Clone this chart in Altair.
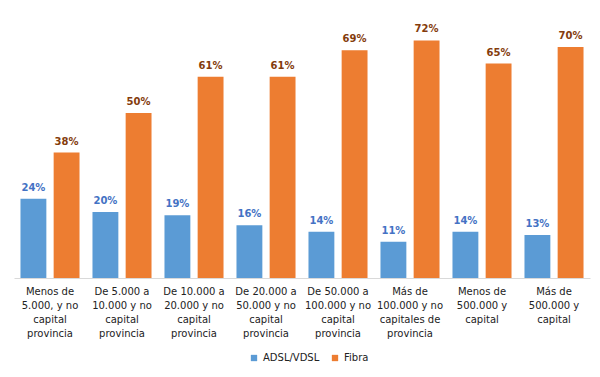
import altair as alt
import pandas as pd

categories = [
    "Menos de\n5.000, y no\ncapital\nprovincia",
    "De 5.000 a\n10.000 y no\ncapital\nprovincia",
    "De 10.000 a\n20.000 y no\ncapital\nprovincia",
    "De 20.000 a\n50.000 y no\ncapital\nprovincia",
    "De 50.000 a\n100.000 y no\ncapital\nprovincia",
    "Más de\n100.000 y no\ncapitales de\nprovincia",
    "Menos de\n500.000 y\ncapital",
    "Más de\n500.000 y\ncapital",
]
series = ["ADSL/VDSL", "Fibra"]
adsl = [24, 20, 19, 16, 14, 11, 14, 13]
fibra = [38, 50, 61, 61, 69, 72, 65, 70]

rows = []
for i, c in enumerate(categories):
    rows.append({"cat": c, "serie": series[0], "v": adsl[i] / 100})
    rows.append({"cat": c, "serie": series[1], "v": fibra[i] / 100})
df = pd.DataFrame(rows)

FONT = "DejaVu Sans"

x = alt.X("cat:N", sort=categories, title=None,
          scale=alt.Scale(paddingInner=0.18, paddingOuter=0.09),
          axis=alt.Axis(labelExpr="split(datum.label, '\\n')", labelAngle=0,
                        labelFont=FONT, labelFontSize=10, labelColor="#222222",
                        labelLineHeight=14, labelPadding=8, ticks=False,
                        domainColor="#d9d9d9", labelLimit=200))
xo = alt.XOffset("serie:N", sort=series, scale=alt.Scale(paddingInner=0.22))
y = alt.Y("v:Q", axis=None, scale=alt.Scale(domain=[0, 0.8]))

bars = alt.Chart(df).mark_bar().encode(
    x=x, xOffset=xo, y=y,
    color=alt.Color("serie:N", sort=series,
                    scale=alt.Scale(domain=series, range=["#5B9BD5", "#ED7D31"]),
                    legend=alt.Legend(title=None, orient="none", direction="horizontal",
                                      legendX=235, legendY=339, symbolType="square",
                                      symbolSize=40, labelFont=FONT, labelFontSize=10,
                                      labelColor="#222222", columnPadding=10)),
)

labels = alt.Chart(df).mark_text(dy=-6, baseline="bottom", font=FONT,
                                 fontSize=10, fontWeight="bold").encode(
    x=x, xOffset=xo, y=y,
    text=alt.Text("v:Q", format=".0%"),
    color=alt.Color("serie:N", sort=series,
                    scale=alt.Scale(domain=series, range=["#4472C4", "#843C0C"]),
                    legend=None),
)

chart = (alt.layer(bars, labels)
         .resolve_scale(color="independent")
         .properties(width=576, height=264, background="white",
                     autosize=alt.AutoSizeParams(type="none"),
                     padding={"left": 14, "top": 14, "right": 10, "bottom": 99})
         .configure_view(stroke=None))

chart.save("out.html", embed_options={"renderer": "svg", "actions": False})
